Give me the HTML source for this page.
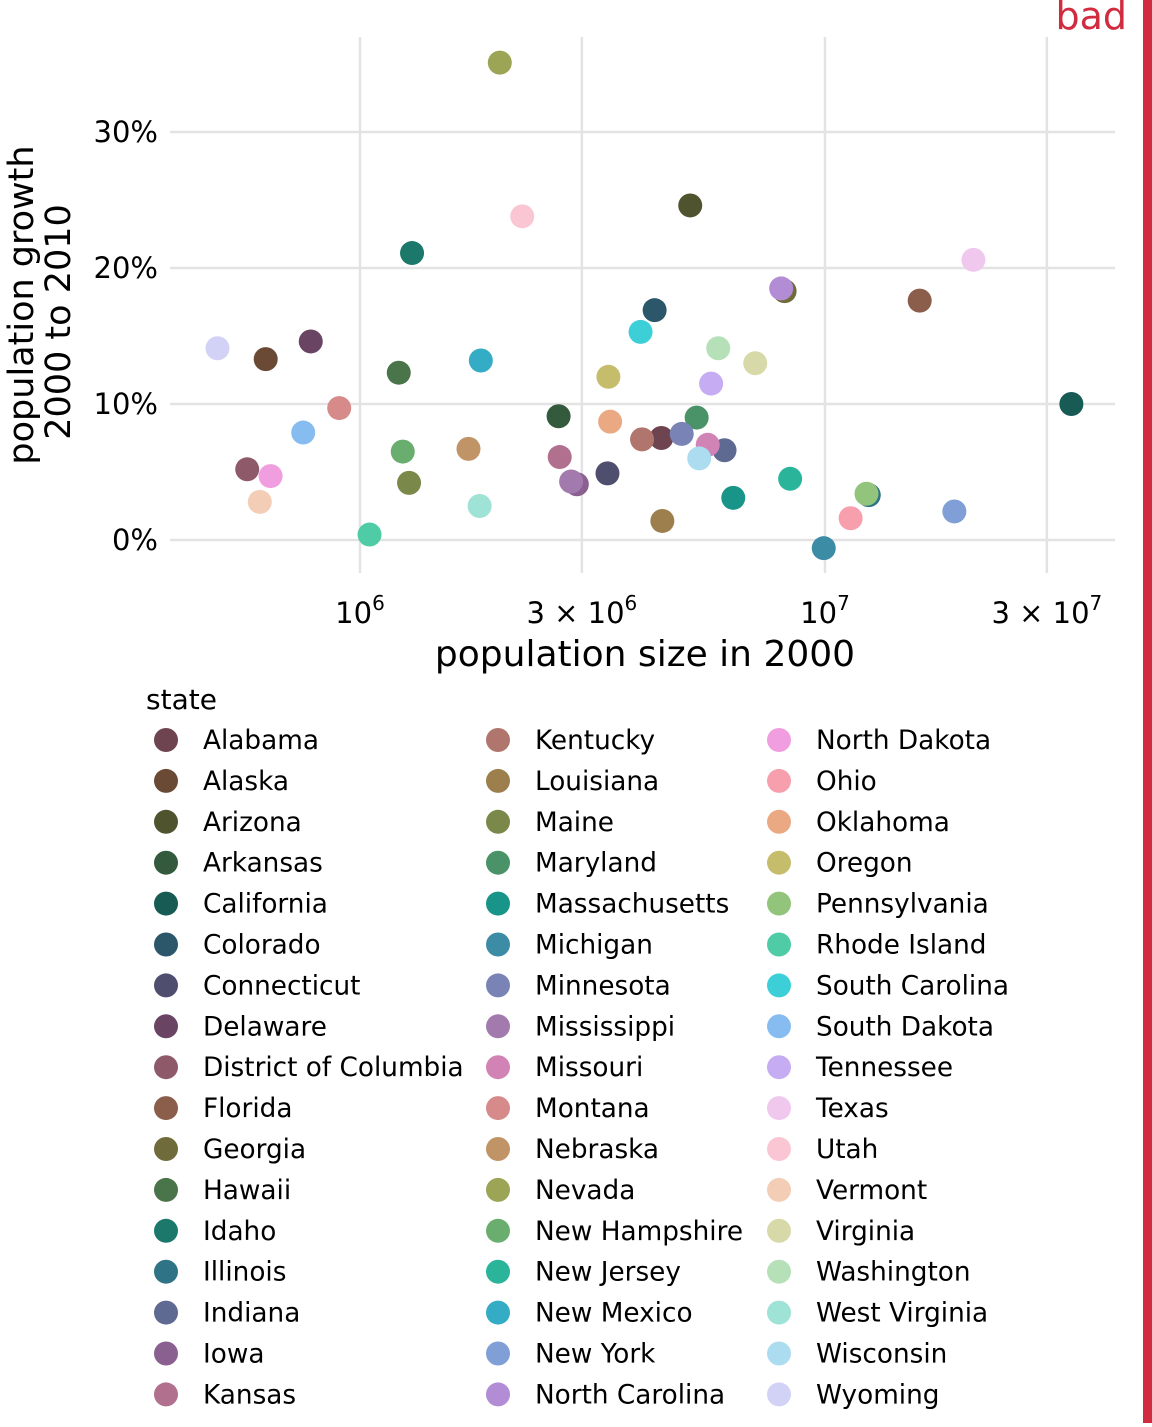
<!DOCTYPE html>
<html><head><meta charset="utf-8"><style>
html,body{margin:0;padding:0;background:#fff;}
body{width:1152px;height:1423px;overflow:hidden;position:relative;font-family:"DejaVu Sans","Liberation Sans",sans-serif;}
</style></head><body>
<svg id="chart" width="1152" height="1423" xmlns="http://www.w3.org/2000/svg" font-family="DejaVu Sans, Liberation Sans, sans-serif">
<rect x="1143" y="0" width="9" height="1423" fill="#d02b3e"/>
<text x="1127" y="29" font-size="38" fill="#d02b3e" text-anchor="end">bad</text>
<g id="grid"></g>
<g id="points"></g>
<g id="ticks" font-size="29" fill="#000"></g>
<text x="645" y="666" font-size="36" text-anchor="middle">population size in 2000</text>
<text transform="translate(33,305) rotate(-90)" font-size="35" text-anchor="middle">population growth</text>
<text transform="translate(70,322) rotate(-90)" font-size="35" text-anchor="middle">2000 to 2010</text>
<text x="146" y="709" font-size="28">state</text>
<g id="legend" font-size="26.3"></g>
</svg>
<script>
const states=["Alabama","Alaska","Arizona","Arkansas","California","Colorado","Connecticut","Delaware","District of Columbia","Florida","Georgia","Hawaii","Idaho","Illinois","Indiana","Iowa","Kansas","Kentucky","Louisiana","Maine","Maryland","Massachusetts","Michigan","Minnesota","Mississippi","Missouri","Montana","Nebraska","Nevada","New Hampshire","New Jersey","New Mexico","New York","North Carolina","North Dakota","Ohio","Oklahoma","Oregon","Pennsylvania","Rhode Island","South Carolina","South Dakota","Tennessee","Texas","Utah","Vermont","Virginia","Washington","West Virginia","Wisconsin","Wyoming"];
const pop2000=[4447100,626932,5130632,2673400,33871648,4301261,3405565,783600,572059,15982378,8186453,1211537,1293953,12419293,6080485,2926324,2688418,4041769,4468976,1274923,5296486,6349097,9938444,4919479,2844658,5595211,902195,1711263,1998257,1235786,8414350,1819046,18976457,8049313,642200,11353140,3450654,3421399,12281054,1048319,4012012,754844,5689283,20851820,2233169,608827,7078515,5894121,1808344,5363675,493782];
const growth=[7.5,13.3,24.6,9.1,10.0,16.9,4.9,14.6,5.2,17.6,18.3,12.3,21.1,3.3,6.6,4.1,6.1,7.4,1.4,4.2,9.0,3.1,-0.6,7.8,4.3,7.0,9.7,6.7,35.1,6.5,4.5,13.2,2.1,18.5,4.7,1.6,8.7,12.0,3.4,0.4,15.3,7.9,11.5,20.6,23.8,2.8,13.0,14.1,2.5,6.0,14.1];
const colors=["#6e4450","#6a4a35","#4f532e","#345a3e","#175b54","#2c566a","#4f4e6e","#694463","#8e5a6a","#8a5e4a","#706b3a","#4a744a","#1b786a","#2f7386","#5e6a92","#8a6090","#b0708e","#b0756d","#9c7f4c","#7a884a","#4a9268","#189488","#3d8ca5","#7a83b5","#a37aad","#d283b5","#d68a8a","#c09466","#9ca456","#6aae6f","#2ab59b","#35acc6","#7f9fd6","#b38cd6","#f09ee0","#f79fad","#eaa982","#c6bd6c","#92c57b","#4fcca5","#3ccfd8","#86bcf0","#c6acf2","#f0c8ee","#fbc6d4","#f3cdb5","#d8d9a8","#b6e0b8","#9fe2d6","#acdcef","#d2d2f6"];
const xTicks=[1e6,3e6,1e7,3e7];
const xTickLabels=[["10","6"],["3 × 10","6"],["10","7"],["3 × 10","7"]];
const yTicks=[0,10,20,30];
const yTickLabels=["0%","10%","20%","30%"];
const NS="http://www.w3.org/2000/svg";
function xs(v){return 360+465*Math.log10(v/1e6);}
function ys(v){return 540-13.6*v;}
function mk(t,a,p){const e=document.createElementNS(NS,t);for(const k in a)e.setAttribute(k,a[k]);p.appendChild(e);return e;}
const grid=document.getElementById('grid'),pts=document.getElementById('points'),tk=document.getElementById('ticks'),lg=document.getElementById('legend');
yTicks.forEach((v,i)=>{
 const l=mk('line',{x1:170,x2:1115,y1:ys(v),y2:ys(v),stroke:'#e3e3e3','stroke-width':2.5},grid);
 
 
 const t=mk('text',{x:158,y:ys(v)+10,'text-anchor':'end'},tk);t.textContent=yTickLabels[i];
 
 
});
xTicks.forEach((v,i)=>{
 const l=mk('line',{x1:xs(v),x2:xs(v),y1:37,y2:573,stroke:'#e3e3e3','stroke-width':2.5},grid);
 
 
 const t=mk('text',{x:xs(v),y:623,'text-anchor':'middle'},tk);
 
 
 const a=mk('tspan',{},t);a.textContent=xTickLabels[i][0];
 const b=mk('tspan',{dy:-13,'font-size':20},t);b.textContent=xTickLabels[i][1];
});
states.forEach((s,i)=>{
 const c=mk('circle',{cx:xs(pop2000[i]),cy:ys(growth[i]),r:12,fill:colors[i]},pts);
 
 
 const col=Math.floor(i/17),row=i%17;
 const cx=[166,498,779][col],cy=740+row*40.9;
 const lc=mk('circle',{cx:cx,cy:cy,r:12,fill:colors[i]},lg);
 
 
 const lt=mk('text',{x:cx+37,y:cy+9},lg);lt.textContent=s;
 
 
});
</script>
</body></html>
